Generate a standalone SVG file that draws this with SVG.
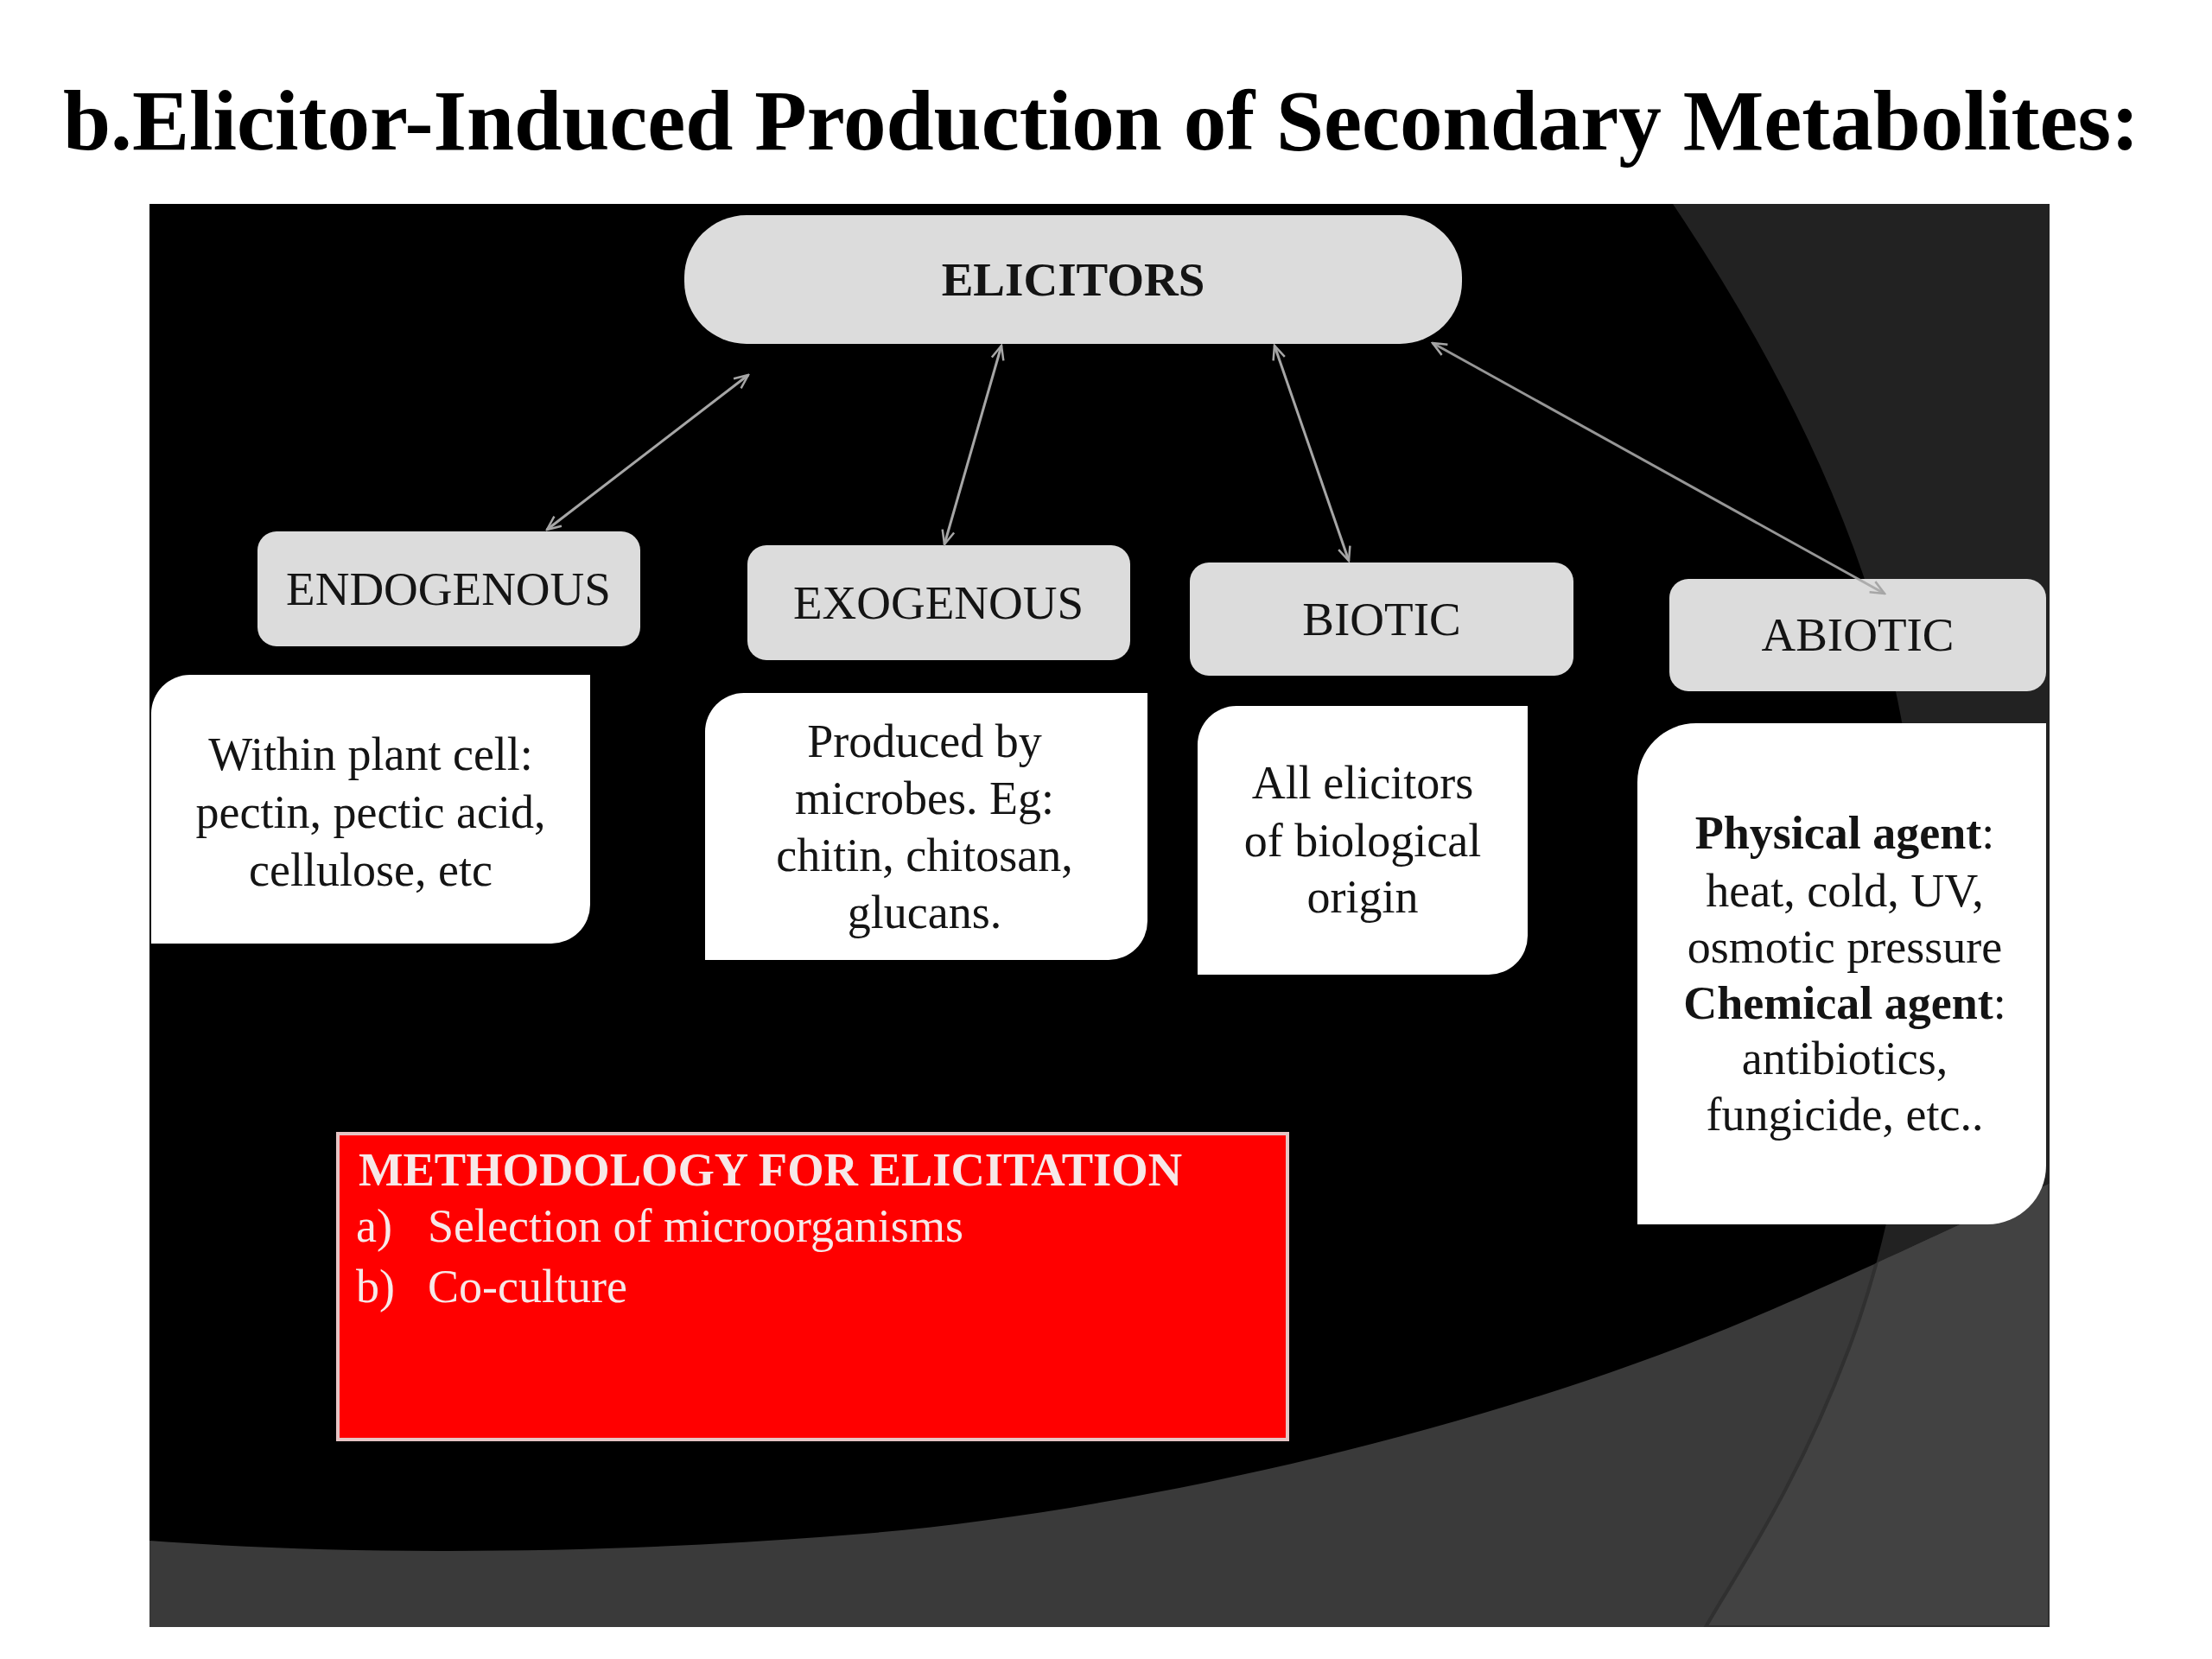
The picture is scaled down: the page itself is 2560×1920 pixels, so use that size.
<svg xmlns="http://www.w3.org/2000/svg" width="2560" height="1920" viewBox="0 0 2560 1920">
  <defs>
    <style>
      .title { font-family: "Liberation Serif", "Times New Roman", serif; font-weight: bold; font-size: 100px; fill: #000; }
      .gbox { fill: #dcdcdc; }
      .wbox { fill: #ffffff; }
      .glabel { font-family: "Liberation Serif", "Times New Roman", serif; font-size: 55px; fill: #141414; text-anchor: middle; }
      .desc { font-family: "Liberation Serif", "Times New Roman", serif; font-size: 54px; fill: #141414; text-anchor: middle; }
      .b { font-weight: bold; }
      .red { font-family: "Liberation Serif", "Times New Roman", serif; font-size: 54px; fill: #f7e8e8; }
      .conn { stroke: #a6a6a6; stroke-width: 3; fill: none; marker-start: url(#arr); marker-end: url(#arr); }
    </style>
    <marker id="arr" viewBox="0 0 20 20" refX="18" refY="10" markerWidth="20" markerHeight="20" markerUnits="userSpaceOnUse" orient="auto-start-reverse">
      <path d="M2,3 L18,10 L2,17" fill="none" stroke="#a6a6a6" stroke-width="2.5"/>
    </marker>
    <clipPath id="bandClip">
      <path d="M173,1783 C400,1800 700,1800 1000,1775 C1300,1750 1700,1660 2000,1537 C2150,1475 2280,1410 2372,1370 L2372,1883 L173,1883 Z"/>
    </clipPath>
  </defs>

  <rect x="0" y="0" width="2560" height="1920" fill="#ffffff"/>

  <text class="title" x="73" y="173" textLength="2403" lengthAdjust="spacingAndGlyphs">b.Elicitor-Induced Production of Secondary Metabolites:</text>

  <g id="background">
    <rect x="173" y="236" width="2199" height="1647" fill="#000000"/>
    <path d="M1936,236 C2080,450 2200,700 2215,950 C2230,1200 2200,1400 2140,1560 C2080,1720 2010,1820 1974,1883 L2372,1883 L2372,236 Z" fill="#222222"/>
    <path d="M173,1783 C400,1800 700,1800 1000,1775 C1300,1750 1700,1660 2000,1537 C2150,1475 2280,1410 2372,1370 L2372,1883 L173,1883 Z" fill="#3a3a3a"/>
    <path d="M1936,236 C2080,450 2200,700 2215,950 C2230,1200 2200,1400 2140,1560 C2080,1720 2010,1820 1974,1883 L2372,1883 L2372,236 Z" fill="#424242" stroke="#303030" stroke-width="4" clip-path="url(#bandClip)"/>
  </g>

  <g id="elicitors">
    <rect class="gbox" x="792" y="249" width="900" height="149" rx="72" ry="72"/>
    <text class="glabel b" x="1242" y="342" font-size="54">ELICITORS</text>
  </g>

  <g id="endogenous">
    <rect class="gbox" x="298" y="615" width="443" height="133" rx="22" ry="22"/>
    <text class="glabel" x="519" y="700">ENDOGENOUS</text>
  </g>

  <g id="exogenous">
    <rect class="gbox" x="865" y="631" width="443" height="133" rx="22" ry="22"/>
    <text class="glabel" x="1086" y="716">EXOGENOUS</text>
  </g>

  <g id="biotic">
    <rect class="gbox" x="1377" y="651" width="444" height="131" rx="22" ry="22"/>
    <text class="glabel" x="1599" y="735">BIOTIC</text>
  </g>

  <g id="abiotic">
    <rect class="gbox" x="1932" y="670" width="436" height="130" rx="22" ry="22"/>
    <text class="glabel" x="2150" y="753">ABIOTIC</text>
  </g>

  <g id="endogenous-desc">
    <path class="wbox" d="M175,826 A45,45 0 0 1 220,781 L683,781 L683,1047 A45,45 0 0 1 638,1092 L175,1092 Z"/>
    <text class="desc" x="429" y="891">Within plant cell:</text>
    <text class="desc" x="429" y="958">pectin, pectic acid,</text>
    <text class="desc" x="429" y="1025">cellulose, etc</text>
  </g>

  <g id="exogenous-desc">
    <path class="wbox" d="M816,847 A45,45 0 0 1 861,802 L1328,802 L1328,1066 A45,45 0 0 1 1283,1111 L816,1111 Z"/>
    <text class="desc" x="1070" y="876">Produced by</text>
    <text class="desc" x="1070" y="942">microbes. Eg:</text>
    <text class="desc" x="1070" y="1008">chitin, chitosan,</text>
    <text class="desc" x="1070" y="1074">glucans.</text>
  </g>

  <g id="biotic-desc">
    <path class="wbox" d="M1386,862 A45,45 0 0 1 1431,817 L1768,817 L1768,1083 A45,45 0 0 1 1723,1128 L1386,1128 Z"/>
    <text class="desc" x="1577" y="924">All elicitors</text>
    <text class="desc" x="1577" y="991">of biological</text>
    <text class="desc" x="1577" y="1056">origin</text>
  </g>

  <g id="abiotic-desc">
    <path class="wbox" d="M1895,905 A68,68 0 0 1 1963,837 L2368,837 L2368,1349 A68,68 0 0 1 2300,1417 L1895,1417 Z"/>
    <text class="desc" x="2135" y="982"><tspan class="b">Physical agent</tspan>:</text>
    <text class="desc" x="2135" y="1049">heat, cold, UV,</text>
    <text class="desc" x="2135" y="1114">osmotic pressure</text>
    <text class="desc" x="2135" y="1179"><tspan class="b">Chemical agent</tspan>:</text>
    <text class="desc" x="2135" y="1243">antibiotics,</text>
    <text class="desc" x="2135" y="1308">fungicide, etc..</text>
  </g>

  <g id="methodology">
    <rect x="391" y="1312" width="1099" height="354" fill="#ff0000" stroke="#e6c4c4" stroke-width="4"/>
    <text class="red b" x="415" y="1372" textLength="953" lengthAdjust="spacingAndGlyphs">METHODOLOGY FOR ELICITATION</text>
    <text class="red" x="412" y="1437">a)</text>
    <text class="red" x="495" y="1437">Selection of microorganisms</text>
    <text class="red" x="412" y="1507">b)</text>
    <text class="red" x="495" y="1507">Co-culture</text>
  </g>

  <g id="connectors">
    <line class="conn" x1="866" y1="434" x2="633" y2="613"/>
    <line class="conn" x1="1159" y1="400" x2="1093" y2="630"/>
    <line class="conn" x1="1475" y1="400" x2="1561" y2="649"/>
    <line class="conn" x1="1658" y1="397" x2="2181" y2="687" stroke-opacity="0.9"/>
  </g>
</svg>
